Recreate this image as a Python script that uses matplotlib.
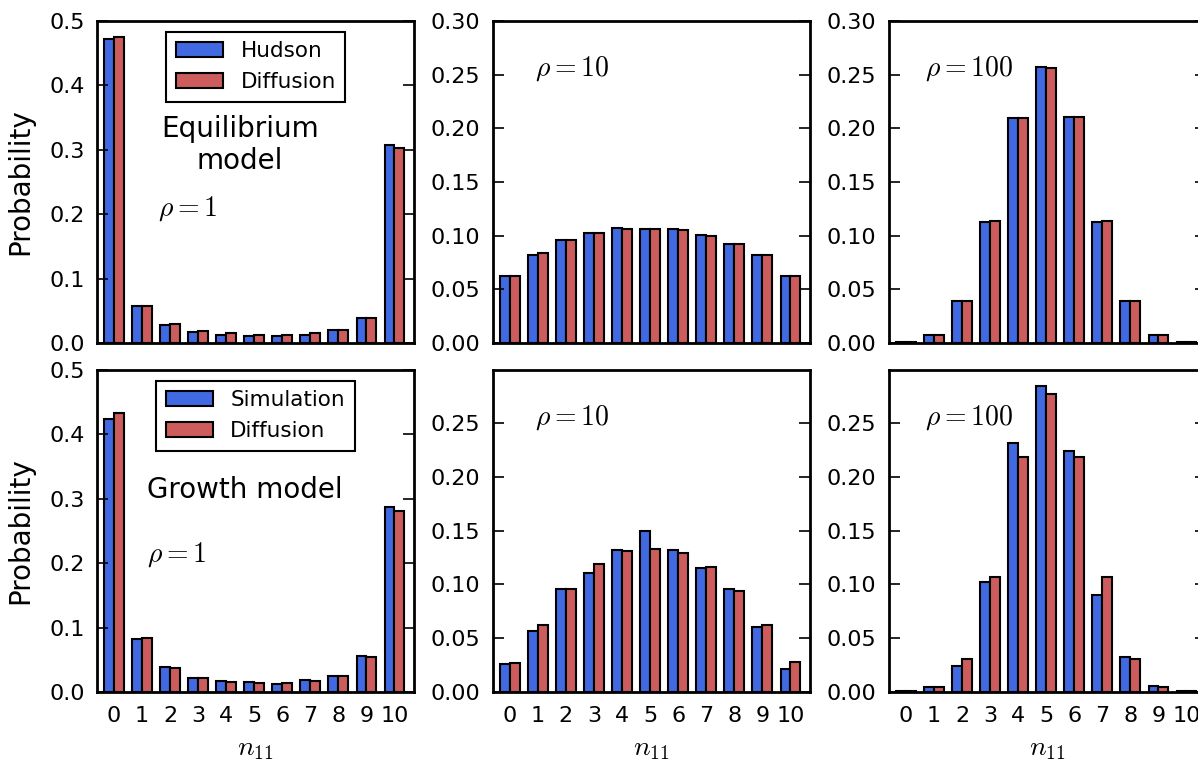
import numpy as np
import matplotlib.pyplot as plt

plt.rcParams['font.family'] = 'DejaVu Sans'
plt.rcParams['mathtext.fontset'] = 'cm'

# данные: n11 = 0..10
n11 = [0, 1, 2, 3, 4, 5, 6, 7, 8, 9, 10]

# равновесная модель (Hudson vs диффузия)
eq_hudson_1 = [0.4725, 0.058, 0.0285, 0.017, 0.013, 0.011, 0.011, 0.013, 0.0207, 0.039, 0.307]
eq_diff_1 = [0.475, 0.058, 0.029, 0.019, 0.015, 0.013, 0.013, 0.015, 0.020, 0.038, 0.303]
eq_hudson_10 = [0.062, 0.0821, 0.096, 0.1029, 0.1069, 0.106, 0.106, 0.1007, 0.092, 0.0815, 0.062]
eq_diff_10 = [0.0626, 0.0837, 0.0955, 0.1026, 0.106, 0.1066, 0.1048, 0.1001, 0.0924, 0.0818, 0.062]
eq_hudson_100 = [0.0008, 0.0077, 0.0387, 0.1131, 0.2092, 0.2572, 0.2101, 0.1131, 0.0394, 0.0077, 0.0008]
eq_diff_100 = [0.0008, 0.0077, 0.0387, 0.114, 0.2098, 0.256, 0.2101, 0.114, 0.0387, 0.0077, 0.0008]

# модель роста (симуляция vs диффузия)
gr_sim_1 = [0.4233, 0.0824, 0.0383, 0.0218, 0.0171, 0.015, 0.0124, 0.0181, 0.0249, 0.0554, 0.2876]
gr_diff_1 = [0.4337, 0.0845, 0.0368, 0.0218, 0.0155, 0.0135, 0.0135, 0.0166, 0.0249, 0.0544, 0.2808]
gr_sim_10 = [0.0264, 0.0568, 0.096, 0.1109, 0.132, 0.1494, 0.1323, 0.1152, 0.096, 0.0606, 0.0217]
gr_diff_10 = [0.027, 0.0627, 0.096, 0.119, 0.131, 0.1332, 0.1289, 0.1158, 0.0941, 0.0621, 0.0283]
gr_sim_100 = [0.001, 0.0043, 0.0239, 0.1022, 0.232, 0.2842, 0.2245, 0.0901, 0.0323, 0.0053, 0.0005]
gr_diff_100 = [0.0005, 0.0043, 0.0304, 0.1068, 0.219, 0.277, 0.219, 0.1068, 0.0304, 0.0043, 0.0005]

blue = '#4169E1'
red = '#CD5C5C'
w = 0.35

fig = plt.figure(figsize=(11.98, 7.63), dpi=100)
lefts = [0.0810, 0.4115, 0.7421]
bottoms = [0.5505, 0.0931]
aw, ah = 0.2646, 0.4220

panels = [
    [(eq_hudson_1, eq_diff_1, r'$\rho=1$'), (eq_hudson_10, eq_diff_10, r'$\rho=10$'),
     (eq_hudson_100, eq_diff_100, r'$\rho=100$')],
    [(gr_sim_1, gr_diff_1, r'$\rho=1$'), (gr_sim_10, gr_diff_10, r'$\rho=10$'),
     (gr_sim_100, gr_diff_100, r'$\rho=100$')],
]
first_names = ['Hudson', 'Simulation']

x = np.array(n11)
for r in range(2):
    for c in range(3):
        a, b, txt = panels[r][c]
        ax = fig.add_axes([lefts[c], bottoms[r], aw, ah])
        ax.bar(x - w, a, width=w, align='edge', color=blue, edgecolor='black',
               linewidth=1.5, label=first_names[r])
        ax.bar(x, b, width=w, align='edge', color=red, edgecolor='black',
               linewidth=1.5, label='Diffusion')
        ax.set_xlim(-0.6, 10.7)
        ax.set_xticks(n11)
        for s in ax.spines.values():
            s.set_linewidth(2)
        ax.tick_params(axis='y', direction='in', length=8, width=1.2,
                       left=True, right=True, labelsize=16, pad=9)
        ax.tick_params(axis='x', length=0, labelsize=16, pad=10)
        if r == 0:
            ax.tick_params(labelbottom=False)
        else:
            ax.set_xlabel(r'$n_{11}$', fontsize=20, labelpad=6)
        if c == 0:
            ax.set_ylim(0, 0.5)
            ax.set_yticks([0.0, 0.1, 0.2, 0.3, 0.4, 0.5])
            ax.set_yticklabels(['0.0', '0.1', '0.2', '0.3', '0.4', '0.5'])
            ax.set_ylabel('Probability', fontsize=20, labelpad=11)
            ax.text(0.192 if r == 0 else 0.158, 0.397 if r == 0 else 0.404, txt,
                    transform=ax.transAxes, fontsize=20, va='baseline')
            leg = ax.legend(loc='upper left', bbox_to_anchor=(0.218 if r == 0 else 0.186, 0.967),
                            borderaxespad=0, fontsize=15.5, fancybox=False, framealpha=1,
                            edgecolor='black', handlelength=2.2, handletextpad=0.8,
                            borderpad=0.45, labelspacing=0.5)
            leg.get_frame().set_linewidth(1.5)
        else:
            if r == 0:
                ax.set_ylim(0, 0.3)
                ax.set_yticks([0.0, 0.05, 0.10, 0.15, 0.20, 0.25, 0.30])
                ax.set_yticklabels(['0.00', '0.05', '0.10', '0.15', '0.20', '0.25', '0.30'])
            else:
                ax.set_ylim(0, 0.2995)
                ax.set_yticks([0.0, 0.05, 0.10, 0.15, 0.20, 0.25])
                ax.set_yticklabels(['0.00', '0.05', '0.10', '0.15', '0.20', '0.25'])
            ax.text(0.1325 if c == 1 else 0.1136, 0.83, txt,
                    transform=ax.transAxes, fontsize=20, va='baseline')

fig.axes[0].text(0.451, 0.615, 'Equilibrium\nmodel', transform=fig.axes[0].transAxes,
                 fontsize=20, ha='center', va='center', multialignment='center')
fig.axes[3].text(0.467, 0.6025, 'Growth model', transform=fig.axes[3].transAxes,
                 fontsize=20, ha='center', va='baseline')

plt.savefig('out.png', dpi=100)
